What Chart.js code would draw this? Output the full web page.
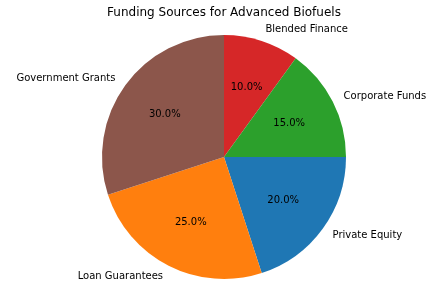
<!DOCTYPE html>
<html>
<head>
<meta charset="utf-8">
<script src="https://cdn.jsdelivr.net/npm/chart.js@4/dist/chart.umd.min.js"></script>
<style>
  html, body { margin: 0; padding: 0; background: #fff; }
  #wrap { width: 448px; height: 299px; }
</style>
</head>
<body>
<div id="wrap"><canvas id="pie" width="448" height="299"></canvas></div>
<script>
// データ (時計回り, 東から)
const categories = ['Private Equity', 'Loan Guarantees', 'Government Grants', 'Blended Finance', 'Corporate Funds'];
const shares = [20, 25, 30, 10, 15];
const colors = ['#1f77b4', '#ff7f0e', '#8c564b', '#d62728', '#2ca02c'];
const title = 'Funding Sources for Advanced Biofuels';

const font = "'DejaVu Sans', sans-serif";

// ラベルとパーセントの描画
const pieLabels = {
    id: 'pieLabels',
    afterDatasetsDraw(chart) {
        const ctx = chart.ctx;
        const meta = chart.getDatasetMeta(0);
        const total = shares.reduce((a, b) => a + b, 0);
        ctx.save();
        ctx.fillStyle = '#000';
        ctx.textBaseline = 'middle';
        meta.data.forEach((arc, i) => {
            const mid = (arc.startAngle + arc.endAngle) / 2;
            const r = arc.outerRadius;
            const cos = Math.cos(mid), sin = Math.sin(mid);
            // パーセント
            ctx.font = '10px ' + font;
            ctx.textAlign = 'center';
            ctx.fillText((shares[i] / total * 100).toFixed(1) + '%', arc.x + cos * r * 0.6, arc.y + sin * r * 0.6);
            // カテゴリ名
            ctx.textAlign = cos >= 0 ? 'left' : 'right';
            ctx.fillText(categories[i], arc.x + cos * r * 1.1, arc.y + sin * r * 1.1);
        });
        ctx.font = '12px ' + font;
        ctx.textAlign = 'center';
        ctx.fillText(title, chart.width / 2, 13);
        ctx.restore();
    }
};

new Chart(document.getElementById('pie'), {
    type: 'pie',
    data: {
        labels: categories,
        datasets: [{
            data: shares,
            backgroundColor: colors,
            borderWidth: 0
        }]
    },
    options: {
        responsive: false,
        animation: false,
        rotation: 90,
        layout: { padding: { top: 35, bottom: 20, left: 0, right: 0 } },
        plugins: {
            legend: { display: false },
            tooltip: { enabled: false },
            title: { display: false }
        }
    },
    plugins: [pieLabels]
});
</script>
</body>
</html>
